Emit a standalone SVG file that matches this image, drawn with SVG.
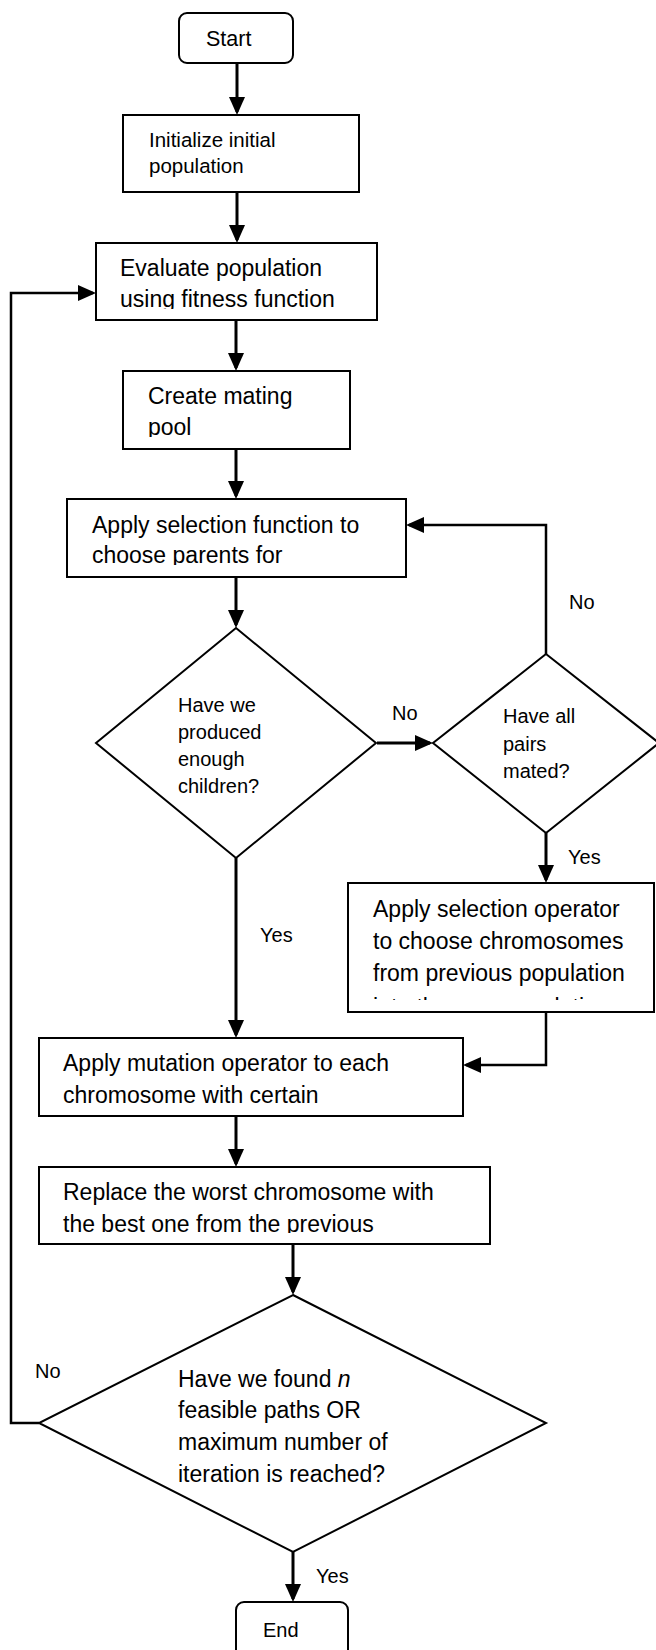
<svg xmlns="http://www.w3.org/2000/svg" width="656" height="1650" viewBox="0 0 656 1650">
<defs>
<style>
.box{fill:#fff;stroke:#000;stroke-width:2}
.t{font-family:"Liberation Sans",Arial,sans-serif;font-size:23px;fill:#000}
.ts{font-family:"Liberation Sans",Arial,sans-serif;font-size:20px;fill:#000}
.lbl{font-family:"Liberation Sans",Arial,sans-serif;font-size:20px;fill:#000}
.c{fill:none;stroke:#000;stroke-width:3}
.c2{fill:none;stroke:#000;stroke-width:2.5}
</style>
<marker id="ah" markerUnits="userSpaceOnUse" markerWidth="18" markerHeight="16" viewBox="0 0 18 16" refX="15" refY="8" orient="auto">
<path d="M0,0 L18,8 L0,16 z" fill="#000"/>
</marker>
<clipPath id="cEval"><rect x="96" y="243" width="281" height="66"/></clipPath>
<clipPath id="cCreate"><rect x="123" y="371" width="227" height="66"/></clipPath>
<clipPath id="cSel"><rect x="67" y="499" width="339" height="66"/></clipPath>
<clipPath id="cSelOp"><rect x="348" y="883" width="306" height="117"/></clipPath>
<clipPath id="cRep"><rect x="39" y="1167" width="451" height="66"/></clipPath>
</defs>
<rect width="656" height="1650" fill="#fff"/>

<g id="connectors">
<path class="c" d="M237,63 V112" marker-end="url(#ah)"/>
<path class="c" d="M237,192 V240" marker-end="url(#ah)"/>
<path class="c" d="M236,320 V368" marker-end="url(#ah)"/>
<path class="c" d="M236,449 V496" marker-end="url(#ah)"/>
<path class="c" d="M236,577 V625" marker-end="url(#ah)"/>
<path class="c" d="M377,743 H430" marker-end="url(#ah)"/>
<path class="c2" d="M546,654 V525 H409" marker-end="url(#ah)"/>
<path class="c" d="M546,833 V880" marker-end="url(#ah)"/>
<path class="c2" d="M546,1012 V1065 H466" marker-end="url(#ah)"/>
<path class="c" d="M236,858 V1035" marker-end="url(#ah)"/>
<path class="c" d="M236,1116 V1164" marker-end="url(#ah)"/>
<path class="c" d="M293,1244 V1292" marker-end="url(#ah)"/>
<path class="c2" d="M39,1423 H11 V293 H93" marker-end="url(#ah)"/>
<path class="c" d="M293,1552 V1599" marker-end="url(#ah)"/>
<text class="lbl" x="569" y="609">No</text>
<text class="lbl" x="392" y="720">No</text>
<text class="lbl" x="568" y="864">Yes</text>
<text class="lbl" x="260" y="942">Yes</text>
<text class="lbl" x="35" y="1378">No</text>
<text class="lbl" x="316" y="1583">Yes</text>
</g>

<g id="start">
<rect class="box" x="179" y="13" width="114" height="50" rx="8"/>
<text class="t" x="206" y="46" style="font-size:21.5px">Start</text>
</g>

<g id="init">
<rect class="box" x="123" y="115" width="236" height="77"/>
<text class="t" style="font-size:20.5px"><tspan x="149" y="147">Initialize initial</tspan><tspan x="149" y="173">population</tspan></text>
</g>

<g id="evaluate">
<rect class="box" x="96" y="243" width="281" height="77"/>
<text class="t" clip-path="url(#cEval)"><tspan x="120" y="276">Evaluate population</tspan><tspan x="120" y="307">using fitness function</tspan></text>
</g>

<g id="create">
<rect class="box" x="123" y="371" width="227" height="78"/>
<text class="t" clip-path="url(#cCreate)"><tspan x="148" y="404">Create mating</tspan><tspan x="148" y="435">pool</tspan></text>
</g>

<g id="selection">
<rect class="box" x="67" y="499" width="339" height="78"/>
<text class="t" clip-path="url(#cSel)"><tspan x="92" y="533">Apply selection function to</tspan><tspan x="92" y="563">choose parents for</tspan></text>
</g>

<g id="enough">
<polygon class="box" points="236,628 376,743 236,858 96,743"/>
<text class="ts"><tspan x="178" y="712">Have we</tspan><tspan x="178" y="739">produced</tspan><tspan x="178" y="766">enough</tspan><tspan x="178" y="793">children?</tspan></text>
</g>

<g id="mated">
<polygon class="box" points="546,654 659,743 546,833 433,743"/>
<text class="ts"><tspan x="503" y="723">Have all</tspan><tspan x="503" y="751">pairs</tspan><tspan x="503" y="778">mated?</tspan></text>
</g>

<g id="selop">
<rect class="box" x="348" y="883" width="306" height="129"/>
<text class="t" clip-path="url(#cSelOp)"><tspan x="373" y="917">Apply selection operator</tspan><tspan x="373" y="949">to choose chromosomes</tspan><tspan x="373" y="981">from previous population</tspan><tspan x="373" y="1015">into the new population</tspan></text>
</g>

<g id="mutation">
<rect class="box" x="39" y="1038" width="424" height="78"/>
<text class="t"><tspan x="63" y="1071">Apply mutation operator to each</tspan><tspan x="63" y="1103">chromosome with certain</tspan></text>
</g>

<g id="replace">
<rect class="box" x="39" y="1167" width="451" height="77"/>
<text class="t" clip-path="url(#cRep)"><tspan x="63" y="1200">Replace the worst chromosome with</tspan><tspan x="63" y="1232">the best one from the previous</tspan></text>
</g>

<g id="stop">
<polygon class="box" points="293,1295 546,1423 293,1552 39,1423"/>
<text class="t"><tspan x="178" y="1387">Have we found <tspan font-style="italic">n</tspan></tspan><tspan x="178" y="1418">feasible paths OR</tspan><tspan x="178" y="1450">maximum number of</tspan><tspan x="178" y="1482">iteration is reached?</tspan></text>
</g>

<g id="end">
<rect class="box" x="236" y="1602" width="112" height="60" rx="8"/>
<text class="ts" x="263" y="1637">End</text>
</g>
</svg>
